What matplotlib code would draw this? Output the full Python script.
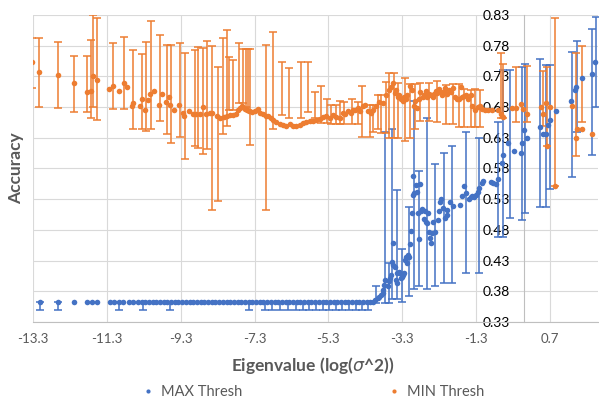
import matplotlib
matplotlib.use("Agg")
import matplotlib.pyplot as plt
from matplotlib.lines import Line2D

plt.rcParams['font.family'] = ['Lato', 'DejaVu Sans']

# ---- MAX Thresh (blue) ----
max_x = [-13.12, -12.61, -12.18, -11.83, -11.71, -11.57, -11.22, -11.10, -10.97, -10.85, -10.71, -10.59,
         -10.46, -10.36, -10.26, -10.16, -10.06, -9.96, -9.86, -9.76, -9.66, -9.56, -9.46, -9.36,
         -9.26, -9.16, -9.06, -8.96, -8.86, -8.76, -8.66, -8.56, -8.46, -8.36, -8.26, -8.16,
         -8.06, -7.96, -7.86, -7.76, -7.66, -7.56, -7.46, -7.36, -7.26, -7.16, -7.06, -6.96,
         -6.86, -6.76, -6.66, -6.56, -6.46, -6.36, -6.26, -6.16, -6.06, -5.96, -5.86, -5.76,
         -5.66, -5.56, -5.46, -5.36, -5.26, -5.16, -5.06, -4.96, -4.86, -4.76, -4.66, -4.56,
         -4.46, -4.36, -4.26, -4.18,
         -4.10, -4.03, -3.97, -3.92, -3.88, -3.83, -3.81, -3.79, -3.76, -3.70, -3.67, -3.63,
         -3.61, -3.59, -3.56, -3.54, -3.51, -3.47, -3.45, -3.43, -3.40, -3.36, -3.34, -3.31,
         -3.27, -3.25, -3.22, -3.19, -3.17, -3.15, -3.11, -3.08, -3.07, -3.05, -3.02, -3.00,
         -2.97, -2.93, -2.90, -2.88, -2.84, -2.81, -2.79, -2.77, -2.71, -2.68, -2.66, -2.63,
         -2.61, -2.57, -2.55, -2.53, -2.50, -2.46, -2.41, -2.32, -2.30, -2.27, -2.24, -2.21,
         -2.14, -2.10, -2.08, -2.01, -1.94, -1.74, -1.67, -1.62, -1.58, -1.49, -1.44, -1.40,
         -1.35, -1.31, -1.24, -1.22, -1.15, -1.11, -0.90, -0.84, -0.77, -0.70, -0.61, -0.56,
         -0.43, -0.27, -0.09, -0.05, 0.00, 0.09, 0.42, 0.51, 0.60, 0.65, 0.69, 0.85,
         1.26, 1.39, 1.40, 1.56, 1.84, 1.93]
max_y = [0.363, 0.363, 0.363, 0.363, 0.363, 0.363, 0.363, 0.363, 0.363, 0.363, 0.363, 0.363,
         0.363, 0.363, 0.363, 0.363, 0.363, 0.363, 0.363, 0.363, 0.363, 0.363, 0.363, 0.363,
         0.363, 0.363, 0.363, 0.363, 0.363, 0.363, 0.363, 0.363, 0.363, 0.363, 0.363, 0.363,
         0.363, 0.363, 0.363, 0.363, 0.363, 0.363, 0.363, 0.363, 0.363, 0.363, 0.363, 0.363,
         0.363, 0.363, 0.363, 0.363, 0.363, 0.363, 0.363, 0.363, 0.363, 0.363, 0.363, 0.363,
         0.363, 0.363, 0.363, 0.363, 0.363, 0.363, 0.363, 0.363, 0.363, 0.363, 0.363, 0.363,
         0.363, 0.363, 0.363, 0.363,
         0.363, 0.366, 0.369, 0.371, 0.374, 0.378, 0.382, 0.390, 0.398, 0.389, 0.396, 0.401,
         0.407, 0.428, 0.458, 0.423, 0.420, 0.398, 0.409, 0.394, 0.412, 0.409, 0.401, 0.404,
         0.407, 0.409, 0.431, 0.436, 0.426, 0.439, 0.436, 0.457, 0.478, 0.507, 0.568, 0.537,
         0.540, 0.553, 0.542, 0.507, 0.465, 0.555, 0.510, 0.514, 0.497, 0.510, 0.493, 0.491,
         0.507, 0.477, 0.466, 0.458, 0.475, 0.493, 0.477, 0.496, 0.510, 0.526, 0.531, 0.515,
         0.499, 0.504, 0.512, 0.526, 0.519, 0.521, 0.535, 0.551, 0.540, 0.530, 0.533, 0.535,
         0.534, 0.537, 0.542, 0.548, 0.557, 0.560, 0.558, 0.556, 0.554, 0.563, 0.589, 0.602,
         0.621, 0.609, 0.606, 0.621, 0.642, 0.629, 0.647, 0.637, 0.637, 0.651, 0.659, 0.674,
         0.690, 0.708, 0.713, 0.727, 0.734, 0.753]

max_bar_x = [-13.12, -12.61, -10.97, -10.32, -9.60, -7.46, -7.03, -6.82, -6.62, -6.40, -6.18,
             -6.00, -5.82, -5.64, -5.46, -5.28, -5.10, -4.92, -4.74, -4.56, -4.38, -4.22,
             -4.02, -3.76, -3.65, -3.58, -3.44, -3.31, -3.13, -2.99, -2.86, -2.63, -2.41,
             -2.18, -1.96, -1.58, -1.22, -0.71, -0.57, -0.39, -0.06, 0.02, 0.42, 0.59, 0.69,
             1.30, 1.44, 1.83, 1.94]
max_bar_lo = [0.350, 0.350, 0.350, 0.350, 0.350, 0.350, 0.350, 0.350, 0.350, 0.350, 0.350,
              0.350, 0.350, 0.350, 0.350, 0.350, 0.350, 0.350, 0.350, 0.350, 0.350, 0.350,
              0.361, 0.361, 0.361, 0.367, 0.367, 0.362, 0.372, 0.383, 0.389, 0.383, 0.389,
              0.394, 0.393, 0.409, 0.409, 0.469, 0.469, 0.500, 0.496, 0.507, 0.517, 0.518, 0.546,
              0.566, 0.640, 0.602, 0.680]
max_bar_hi = [0.363, 0.363, 0.363, 0.363, 0.363, 0.363, 0.363, 0.363, 0.363, 0.363, 0.363,
              0.363, 0.363, 0.363, 0.363, 0.363, 0.363, 0.363, 0.363, 0.363, 0.363, 0.363,
              0.389, 0.640, 0.426, 0.645, 0.545, 0.449, 0.517, 0.690, 0.576, 0.662, 0.587,
              0.606, 0.617, 0.639, 0.630, 0.656, 0.740, 0.740, 0.746, 0.750, 0.759, 0.749, 0.749,
              0.769, 0.787, 0.808, 0.827]

# ---- MIN Thresh (orange) ----
min_x = [-13.34, -13.13, -12.61, -12.18, -11.83, -11.72, -11.67, -11.56, -11.24, -11.13, -10.97, -10.83,
         -10.75, -10.62, -10.58, -10.40, -10.35, -10.26, -10.18, -10.13, -10.02, -9.89, -9.81, -9.70,
         -9.63, -9.58, -9.48, -9.34, -9.25, -9.20, -9.08, -8.97, -8.88, -8.79, -8.70, -8.61,
         -8.52, -8.44, -8.32, -8.23, -8.14, -8.05, -7.96, -7.89, -7.81, -7.75, -7.69, -7.63,
         -7.57, -7.51, -7.44, -7.36, -7.29, -7.22, -7.15, -7.08, -7.00, -6.93, -6.86, -6.79,
         -6.71, -6.62, -6.54, -6.44, -6.35, -6.26, -6.17, -6.08, -5.99, -5.90, -5.81, -5.72,
         -5.63, -5.54, -5.45, -5.36, -5.27, -5.18, -5.09, -5.00, -4.91, -4.85, -4.78, -4.70,
         -4.64, -4.58, -4.51, -4.44, -4.37, -4.30, -4.24, -4.15, -4.08, -4.01, -3.92, -3.83,
         -3.74, -3.65, -3.60, -3.54, -3.50, -3.47, -3.41, -3.38, -3.34, -3.28, -3.25, -3.20,
         -3.16, -3.09, -3.04, -2.98, -2.95, -2.91, -2.86, -2.82, -2.75, -2.70, -2.66, -2.62,
         -2.57, -2.52, -2.48, -2.44, -2.39, -2.35, -2.30, -2.26, -2.23, -2.18, -2.14, -2.08,
         -2.03, -1.98, -1.92, -1.88, -1.82, -1.76, -1.71, -1.67, -1.62, -1.58, -1.53, -1.44,
         -1.40, -1.33, -1.26, -1.20, -1.13, -1.05, -0.97, -0.86, -0.72, -0.63, -0.56, -0.33,
         -0.23, -0.09, -0.03, 0.09, 0.45, 0.52, 0.58, 0.63, 0.69, 0.84, 1.29, 1.41,
         1.42, 1.56, 1.84]
min_y = [0.753, 0.737, 0.732, 0.720, 0.704, 0.706, 0.730, 0.724, 0.709, 0.715, 0.706, 0.719,
         0.712, 0.681, 0.686, 0.681, 0.693, 0.675, 0.691, 0.702, 0.707, 0.683, 0.701, 0.688,
         0.696, 0.683, 0.676, 0.683, 0.670, 0.665, 0.673, 0.668, 0.668, 0.668, 0.680, 0.668,
         0.670, 0.671, 0.665, 0.663, 0.664, 0.665, 0.667, 0.667, 0.669, 0.675, 0.679, 0.681,
         0.677, 0.675, 0.674, 0.672, 0.674, 0.677, 0.671, 0.668, 0.665, 0.665, 0.662, 0.659,
         0.656, 0.653, 0.651, 0.650, 0.652, 0.650, 0.649, 0.651, 0.654, 0.656, 0.657, 0.658,
         0.659, 0.661, 0.664, 0.665, 0.663, 0.667, 0.664, 0.662, 0.670, 0.668, 0.673, 0.671,
         0.675, 0.676, 0.678, 0.673, 0.681, 0.684, 0.673, 0.670, 0.676, 0.681, 0.689, 0.686,
         0.700, 0.708, 0.712, 0.719, 0.703, 0.708, 0.696, 0.700, 0.694, 0.690, 0.697, 0.694,
         0.700, 0.714, 0.708, 0.681, 0.690, 0.678, 0.693, 0.705, 0.696, 0.700, 0.707, 0.696,
         0.702, 0.700, 0.696, 0.701, 0.707, 0.703, 0.709, 0.705, 0.700, 0.704, 0.711, 0.702,
         0.708, 0.705, 0.711, 0.697, 0.694, 0.694, 0.712, 0.697, 0.698, 0.700, 0.694, 0.700,
         0.681, 0.675, 0.680, 0.682, 0.677, 0.676, 0.676, 0.675, 0.675, 0.669, 0.664, 0.679,
         0.679, 0.685, 0.677, 0.669, 0.680, 0.668, 0.686, 0.616, 0.680, 0.552, 0.682, 0.630,
         0.645, 0.645, 0.636]

min_bar_x = [-13.34, -13.13, -12.61, -12.18, -11.83, -11.72, -11.67, -11.56, -11.13, -10.83, -10.58,
             -10.35, -10.24, -10.10, -9.86, -9.67, -9.56, -9.32, -9.19, -8.92, -8.83, -8.70,
             -8.59, -8.44, -8.29, -8.16, -8.06, -7.98, -7.89, -7.72, -7.61, -7.54, -7.47,
             -7.42, -6.98, -6.81, -6.56, -6.37, -6.04, -5.86, -5.66, -5.50, -5.35, -5.23,
             -5.09, -5.00, -4.87, -4.66, -4.51, -4.40, -4.17, -4.08, -3.97, -3.88, -3.74,
             -3.65, -3.52, -3.41, -3.22, -3.09, -2.95, -2.82, -2.59, -2.37, -2.12, -1.92,
             -1.76, -1.62, -1.44, -1.33, -1.20, -0.63, -0.56, -0.23, 0.09, 0.52, 0.63,
             0.84, 1.41, 1.56]
min_bar_lo = [0.711, 0.680, 0.678, 0.672, 0.672, 0.662, 0.680, 0.659, 0.677, 0.677, 0.644,
              0.644, 0.641, 0.644, 0.657, 0.637, 0.621, 0.632, 0.595, 0.617, 0.613, 0.604,
              0.611, 0.512, 0.527, 0.636, 0.649, 0.675, 0.675, 0.686, 0.686, 0.680, 0.675,
              0.619, 0.512, 0.645, 0.667, 0.662, 0.662, 0.672, 0.662, 0.654, 0.654, 0.652,
              0.652, 0.652, 0.652, 0.652, 0.652, 0.632, 0.632, 0.640, 0.644, 0.638, 0.638,
              0.629, 0.629, 0.629, 0.625, 0.629, 0.644, 0.657, 0.657, 0.655, 0.652, 0.652,
              0.648, 0.648, 0.648, 0.648, 0.648, 0.663, 0.663, 0.655, 0.655, 0.650, 0.616,
              0.552, 0.601, 0.656]
min_bar_hi = [0.792, 0.792, 0.786, 0.763, 0.763, 0.790, 0.830, 0.825, 0.784, 0.794, 0.773,
              0.766, 0.786, 0.821, 0.797, 0.781, 0.781, 0.784, 0.768, 0.773, 0.778, 0.776,
              0.788, 0.779, 0.746, 0.792, 0.805, 0.761, 0.756, 0.784, 0.774, 0.774, 0.774,
              0.774, 0.781, 0.802, 0.753, 0.743, 0.753, 0.753, 0.704, 0.715, 0.694, 0.683,
              0.683, 0.690, 0.689, 0.693, 0.688, 0.715, 0.683, 0.683, 0.700, 0.700, 0.721,
              0.735, 0.735, 0.720, 0.728, 0.718, 0.718, 0.720, 0.720, 0.722, 0.716, 0.718,
              0.718, 0.710, 0.708, 0.710, 0.708, 0.768, 0.751, 0.745, 0.747, 0.738, 0.745,
              0.825, 0.768, 0.780]

x_ticks = [-13.3, -11.3, -9.3, -7.3, -5.3, -3.3, -1.3, 0.7]
y_ticks = [0.33, 0.38, 0.43, 0.48, 0.53, 0.58, 0.63, 0.68, 0.73, 0.78, 0.83]

blue = "#4472C4"
orange = "#ED7D31"
grey_txt = "#595959"

W, H = 599, 403
fig = plt.figure(figsize=(W / 100, H / 100), dpi=100)
ax = fig.add_axes([33 / W, 1 - 322 / H, 565 / W, 307 / H])
ax.set_xlim(-13.3, 2.0)
ax.set_ylim(0.33, 0.83)

ax.set_xticks(x_ticks)
ax.set_xticklabels(["%.1f" % v for v in x_ticks], fontsize=9.5, color=grey_txt)
ax.set_yticks(y_ticks)
ax.set_yticklabels(["%.2f" % v for v in y_ticks], fontsize=11, color=grey_txt)
ax.tick_params(length=0)
ax.tick_params(axis="x", pad=8)
ax.tick_params(axis="y", pad=10)
ax.grid(True, color="#D9D9D9", lw=0.8)
ax.set_axisbelow(True)
for s in ["top", "right"]:
    ax.spines[s].set_visible(False)
ax.spines["left"].set_position(("data", 0))
ax.spines["left"].set_color("#BFBFBF")
ax.spines["bottom"].set_color("#BFBFBF")

def draw_bars(xs, lo, hi, color):
    mid = [(a + b) / 2 for a, b in zip(lo, hi)]
    half = [(b - a) / 2 for a, b in zip(lo, hi)]
    ax.errorbar(xs, mid, yerr=half, fmt="none", ecolor=color, elinewidth=1.1,
                capsize=2.8, capthick=1.1, zorder=3)

draw_bars(max_bar_x, max_bar_lo, max_bar_hi, blue)
ax.plot(max_x, max_y, "o", color=blue, ms=4, mew=0, zorder=4)
draw_bars(min_bar_x, min_bar_lo, min_bar_hi, orange)
ax.plot(min_x, min_y, "o", color=orange, ms=4, mew=0, zorder=5)

fig.text(16 / W, 1 - 168 / H, "Accuracy", rotation=90, ha="center", va="center",
         fontsize=12.5, fontweight="bold", color=grey_txt)
fig.text(313 / W, 1 - 366 / H, r"Eigenvalue (log($\sigma$^2))", ha="center", va="center",
         fontsize=12.5, fontweight="bold", color=grey_txt)

handles = [Line2D([], [], marker="o", ls="none", color=blue, ms=3, mew=0),
           Line2D([], [], marker="o", ls="none", color=orange, ms=3, mew=0)]
fig.legend(handles, ["MAX Thresh", "MIN Thresh"], loc="center", bbox_to_anchor=(313 / W, 1 - 392 / H),
           ncol=2, frameon=False, fontsize=10.5, labelcolor=grey_txt, handlelength=0.8,
           handletextpad=0.5, columnspacing=10)

fig.savefig("out.png", dpi=100)
